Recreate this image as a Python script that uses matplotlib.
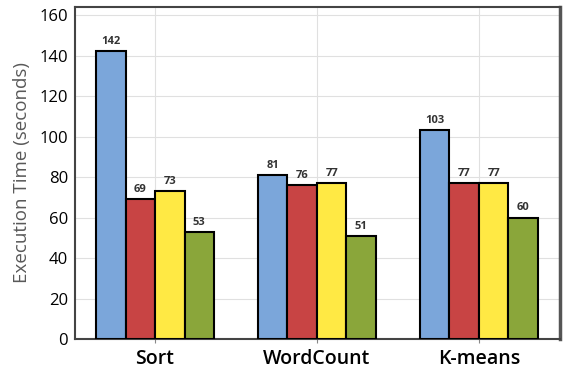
import numpy as np
import matplotlib.pyplot as plt

plt.rcParams['font.family'] = ['Open Sans', 'DejaVu Sans']

categories = ['Sort', 'WordCount', 'K-means']
series_a = [142, 81, 103]
series_b = [69, 76, 77]
series_c = [73, 77, 77]
series_d = [53, 51, 60]

colors = ['#7BA6DA', '#C84444', '#FFE944', '#8AA63A']


def CreatePlot():
    """
    Grouped bar chart of execution times.
    """
    fig = plt.figure(figsize=(5.76, 3.84), dpi=100)
    ax = fig.add_axes([0.130, 0.117, 0.842, 0.865])

    x = np.arange(len(categories))
    width = 0.182
    allseries = [series_a, series_b, series_c, series_d]

    for i, (vals, c) in enumerate(zip(allseries, colors)):
        pos = x + (i - 1.5) * width
        bars = ax.bar(pos, vals, width, color=c, edgecolor='black',
                      linewidth=1.5, zorder=3)
        for b, v in zip(bars, vals):
            ax.annotate(str(v), xy=(b.get_x() + b.get_width() / 2, v),
                        xytext=(0, 3), textcoords='offset points',
                        ha='center', va='bottom', fontsize=8,
                        fontweight='bold', color='#333333')

    ax.set_xlim(-0.495, 2.5)
    ax.set_ylim(0, 164)
    ax.set_yticks(range(0, 161, 20))
    ax.set_xticks(x)
    ax.set_xticklabels(categories, fontsize=14, fontweight='semibold')
    ax.tick_params(axis='y', labelsize=12, length=0, pad=5)
    ax.tick_params(axis='x', length=3, color='#888888', pad=4)

    ax.grid(True, color='#e0e0e0', linewidth=0.8, zorder=0)

    for s in ['left', 'bottom', 'top']:
        ax.spines[s].set_color('#444444')
        ax.spines[s].set_linewidth(1.5)
    ax.spines['right'].set_color('#555555')
    ax.spines['right'].set_linewidth(2.5)

    ax.set_ylabel('Execution Time (seconds)', fontsize=13.5, color='#595959',
                  labelpad=6)

    plt.savefig('out.png', dpi=100)


CreatePlot()
